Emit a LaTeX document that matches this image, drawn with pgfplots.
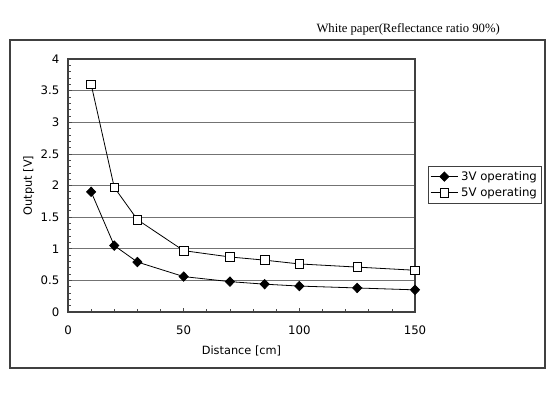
\documentclass[border=0pt]{standalone}
\usepackage{fontspec}
\setmainfont{DejaVu Sans}
\newfontfamily\serif{Liberation Serif}
\usepackage{pgfplots}
\pgfplotsset{compat=1.18}
\begin{document}
\begin{tikzpicture}[x=0.75pt,y=0.75pt]
\fill[white] (0,0) rectangle (560,400);
\draw[black!75, line width=0.9pt] (10,32) rectangle (545,360);
\node[anchor=base east, inner sep=0pt, font=\serif\fontsize{9.5}{11}\selectfont] at (500,367) {White paper(Reflectance ratio 90\%)};
\begin{axis}[
  at={(51pt,66pt)}, anchor=origin,
  scale only axis, width=260.25pt, height=189.75pt,
  xmin=0, xmax=150, ymin=0, ymax=4,
  xtick={0,50,100,150}, ytick={0,0.5,...,4},
  minor x tick num=4, minor y tick num=4,
  tick pos=left, tick align=inside,
  major tick length=3pt, minor tick length=2pt,
  ymajorgrids, grid style={black!55, line width=0.5pt},
  axis line style={black!75, line width=0.9pt},
  every tick/.style={black!70, line width=0.5pt},
  ticklabel style={font=\fontsize{8.8}{11}\selectfont},
  xticklabel style={yshift=-7pt},
  yticklabel style={xshift=-3pt},
  /pgf/number format/assume math mode=true,
  yticklabel={\pgfmathprintnumber[fixed,precision=1]{\tick}},
  xlabel={Distance [cm]}, ylabel={Output [V]},
  label style={font=\fontsize{8.5}{11}\selectfont},
  xlabel style={yshift=-1pt},
  ylabel style={yshift=-2pt},
  legend style={at={(1.037,0.577)}, anchor=north west, draw=black!75, line width=0.7pt,
    font=\fontsize{8.8}{11}\selectfont, inner sep=1.5pt, row sep=0pt, cells={anchor=west}},
  legend cell align=left,
  legend image code/.code={\draw[mark repeat=2,mark phase=2] plot coordinates {(0cm,0cm) (0.36cm,0cm) (0.72cm,0cm)};},
]
\addplot[black, line width=0.6pt, mark=diamond*, mark size=3.5pt, mark options={fill=black, solid, xscale=1.3}]
  coordinates {(10,1.90) (20,1.05) (30,0.79) (50,0.56) (70,0.48) (85,0.44) (100,0.41) (125,0.38) (150,0.35)};
\addlegendentry{3V operating}
\addplot[black, line width=0.6pt, mark=square*, mark size=3.2pt, mark options={fill=white, solid}]
  coordinates {(10,3.60) (20,1.97) (30,1.46) (50,0.97) (70,0.87) (85,0.82) (100,0.76) (125,0.71) (150,0.66)};
\addlegendentry{5V operating}
\end{axis}
\end{tikzpicture}
\end{document}
